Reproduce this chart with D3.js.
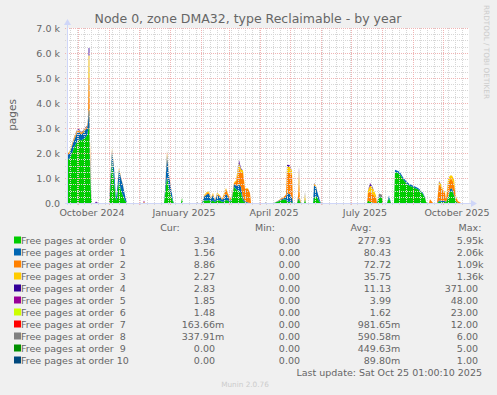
<!DOCTYPE html>
<html>
<head>
<meta charset="utf-8">
<script src="https://cdn.jsdelivr.net/npm/d3@7"></script>
<style>
  body { margin: 0; background: #f0f0f0; }
  svg { display: block; font-family: "DejaVu Sans", sans-serif; }
</style>
</head>
<body>
<div id="chart"></div>
<script>
// sample days, counted from 2024-09-20
const days = [
  0, 2, 4, 6, 8, 10, 12, 14, 16, 18,
  20, 21, 21.6, 22.4, 23, 24, 25, 28, 29, 31, 42,
  43, 45, 47, 49, 50, 52, 54, 56, 58, 60,
  76, 77, 78, 97, 98, 100, 102, 104, 106, 107,
  114, 115, 116, 129, 130, 131, 135, 137, 140, 142,
  144, 146, 148, 150, 153, 155, 157, 159, 161, 163,
  165, 167, 169, 171, 172, 174, 176, 178, 181, 183,
  184, 198, 199, 200, 207, 211, 215, 218, 219, 220,
  223, 225, 226, 230, 231, 232, 233, 234, 237, 238,
  239, 246, 247, 249, 251, 253, 254, 300, 301, 303,
  305, 307, 309, 310, 312, 315, 316, 320, 322, 324,
  327, 328, 331, 333, 336, 339, 342, 345, 348, 351,
  354, 356, 358, 359, 360, 362, 363, 364, 366, 370,
  372, 374, 376, 378, 379, 381, 383, 385, 387, 389,
  391, 393, 394, 402
];

const order0 = [
  1800, 1750, 1900, 2100, 2300, 2450, 2550, 2500, 2550, 2600,
  2700, 2900, 3000, 3000, 1500, 300, 0, 0, 0, 0, 0,
  400, 1700, 900, 100, 200, 900, 500, 300, 100, 0,
  0, 0, 0, 0, 300, 1050, 600, 300, 50, 0,
  0, 200, 0, 0, 0, 0, 0, 100, 100, 120,
  50, 100, 30, 120, 100, 50, 50, 120, 100, 30,
  200, 650, 550, 500, 500, 400, 100, 20, 0, 0,
  0, 0, 0, 0, 0, 60, 120, 150, 150, 50,
  50, 30, 0, 0, 100, 150, 50, 0, 0, 100,
  0, 0, 200, 300, 150, 30, 0, 0, 100, 50,
  30, 0, 0, 0, 250, 200, 0, 0, 200, 0,
  0, 1250, 1200, 1150, 950, 800, 700, 650, 600, 550,
  450, 350, 200, 50, 0, 0, 0, 0, 0, 0,
  50, 50, 30, 50, 20, 200, 450, 500, 300, 50,
  0, 0, 0, 0
];
const order1 = [
  150, 200, 250, 300, 300, 350, 300, 250, 250, 300,
  300, 300, 700, 700, 400, 100, 0, 0, 0, 0, 0,
  300, 400, 500, 100, 300, 450, 500, 400, 200, 0,
  0, 0, 0, 0, 200, 850, 500, 300, 50, 0,
  0, 0, 0, 0, 0, 0, 0, 150, 250, 250,
  120, 220, 60, 200, 150, 80, 150, 250, 150, 60,
  50, 100, 150, 200, 250, 250, 100, 50, 20, 0,
  0, 0, 0, 0, 0, 20, 40, 60, 100, 350,
  300, 200, 0, 0, 50, 50, 20, 0, 0, 50,
  0, 0, 500, 350, 200, 50, 0, 0, 0, 0,
  0, 0, 0, 0, 30, 30, 0, 0, 100, 0,
  0, 80, 80, 80, 80, 80, 70, 60, 60, 50,
  50, 50, 30, 0, 0, 0, 0, 0, 0, 0,
  50, 50, 50, 50, 20, 50, 100, 100, 50, 20,
  0, 0, 0, 0
];
const order2 = [
  50, 50, 50, 60, 80, 60, 50, 50, 50, 60,
  50, 100, 1300, 1300, 400, 50, 0, 0, 0, 0, 0,
  50, 50, 30, 0, 30, 50, 30, 20, 0, 0,
  0, 0, 0, 0, 50, 100, 50, 20, 0, 0,
  0, 0, 0, 0, 0, 0, 0, 30, 50, 50,
  30, 50, 20, 50, 40, 20, 150, 200, 100, 80,
  50, 50, 150, 500, 650, 550, 1000, 500, 550, 400,
  0, 0, 0, 0, 0, 10, 40, 80, 100, 800,
  850, 900, 0, 0, 100, 700, 100, 0, 0, 0,
  0, 0, 50, 30, 0, 0, 0, 0, 300, 400,
  350, 300, 200, 0, 0, 0, 0, 0, 0, 0,
  0, 0, 0, 0, 0, 0, 0, 0, 0, 0,
  0, 0, 0, 0, 0, 0, 150, 100, 0, 0,
  650, 550, 400, 300, 100, 500, 400, 350, 400, 150,
  60, 30, 0, 0
];
const order3 = [
  20, 20, 30, 30, 40, 30, 30, 20, 20, 30,
  20, 50, 900, 900, 200, 20, 0, 0, 0, 0, 0,
  50, 50, 20, 0, 0, 30, 0, 0, 0, 0,
  0, 40, 0, 0, 0, 50, 0, 0, 0, 0,
  0, 0, 0, 0, 0, 0, 0, 30, 50, 40,
  20, 40, 0, 40, 20, 0, 50, 30, 30, 20,
  20, 30, 50, 200, 200, 150, 100, 30, 20, 10,
  0, 0, 0, 0, 0, 0, 0, 0, 0, 250,
  250, 150, 0, 0, 50, 400, 30, 0, 0, 200,
  0, 0, 30, 20, 0, 0, 0, 0, 100, 250,
  250, 200, 100, 0, 0, 0, 0, 0, 0, 0,
  0, 0, 0, 0, 0, 0, 0, 0, 0, 0,
  0, 0, 0, 0, 0, 0, 0, 0, 0, 0,
  100, 100, 50, 50, 0, 200, 150, 150, 200, 50,
  20, 0, 0, 0
];
const order4 = [
  0, 0, 0, 20, 20, 30, 30, 20, 20, 20,
  20, 30, 300, 300, 50, 0, 0, 0, 40, 0, 0,
  0, 0, 0, 0, 0, 0, 0, 0, 0, 0,
  0, 0, 0, 0, 0, 0, 0, 0, 0, 0,
  0, 0, 0, 0, 0, 0, 0, 0, 0, 0,
  0, 0, 0, 0, 0, 0, 0, 0, 0, 0,
  0, 0, 0, 50, 100, 40, 0, 0, 0, 0,
  0, 0, 0, 0, 0, 0, 0, 0, 0, 80,
  50, 0, 0, 0, 0, 150, 0, 0, 0, 0,
  0, 0, 20, 0, 0, 0, 0, 0, 0, 80,
  50, 0, 0, 0, 0, 0, 0, 0, 0, 0,
  0, 0, 0, 0, 0, 0, 0, 0, 0, 0,
  0, 0, 0, 0, 0, 0, 0, 0, 0, 0,
  30, 0, 0, 0, 0, 0, 0, 0, 0, 0,
  0, 0, 0, 0
];
const order5 = [
  0, 0, 0, 0, 0, 0, 0, 0, 0, 0,
  0, 0, 0, 0, 0, 0, 0, 0, 20, 0, 0,
  0, 0, 0, 0, 0, 0, 0, 0, 0, 0,
  0, 60, 0, 0, 0, 0, 0, 0, 0, 0,
  0, 0, 0, 0, 0, 0, 0, 0, 0, 0,
  0, 0, 0, 0, 0, 0, 0, 0, 0, 0,
  0, 0, 0, 0, 20, 0, 0, 0, 0, 0,
  0, 0, 0, 0, 0, 0, 0, 0, 0, 20,
  0, 0, 0, 0, 0, 0, 0, 0, 0, 0,
  0, 0, 0, 0, 0, 0, 0, 0, 0, 20,
  0, 0, 0, 0, 0, 0, 0, 0, 0, 0,
  0, 0, 0, 0, 0, 0, 0, 0, 0, 0,
  0, 0, 0, 0, 0, 0, 0, 0, 0, 0,
  0, 0, 0, 0, 0, 0, 0, 0, 0, 0,
  0, 0, 0, 0
];
const order8 = [
  0, 0, 0, 0, 0, 0, 0, 0, 0, 0,
  0, 0, 0, 0, 0, 0, 0, 0, 0, 0, 0,
  0, 20, 0, 0, 0, 0, 0, 0, 0, 0,
  0, 0, 0, 0, 0, 50, 0, 0, 0, 0,
  0, 0, 0, 0, 40, 0, 0, 0, 0, 0,
  0, 0, 0, 0, 0, 0, 0, 0, 0, 0,
  0, 0, 0, 0, 0, 0, 0, 0, 0, 0,
  0, 0, 40, 0, 0, 0, 0, 0, 0, 0,
  0, 0, 0, 0, 0, 0, 0, 0, 0, 100,
  0, 0, 0, 0, 0, 0, 0, 0, 0, 0,
  0, 0, 0, 0, 100, 100, 0, 0, 0, 0,
  0, 0, 0, 0, 0, 0, 0, 0, 0, 0,
  0, 0, 0, 0, 0, 0, 0, 0, 0, 0,
  0, 0, 0, 0, 0, 0, 0, 0, 0, 0,
  0, 0, 0, 0
];
// orders 6, 7, 9 and 10 stay flat at zero on this scale
const zeros = [
  0, 0, 0, 0, 0, 0, 0, 0, 0, 0,
  0, 0, 0, 0, 0, 0, 0, 0, 0, 0, 0,
  0, 0, 0, 0, 0, 0, 0, 0, 0, 0,
  0, 0, 0, 0, 0, 0, 0, 0, 0, 0,
  0, 0, 0, 0, 0, 0, 0, 0, 0, 0,
  0, 0, 0, 0, 0, 0, 0, 0, 0, 0,
  0, 0, 0, 0, 0, 0, 0, 0, 0, 0,
  0, 0, 0, 0, 0, 0, 0, 0, 0, 0,
  0, 0, 0, 0, 0, 0, 0, 0, 0, 0,
  0, 0, 0, 0, 0, 0, 0, 0, 0, 0,
  0, 0, 0, 0, 0, 0, 0, 0, 0, 0,
  0, 0, 0, 0, 0, 0, 0, 0, 0, 0,
  0, 0, 0, 0, 0, 0, 0, 0, 0, 0,
  0, 0, 0, 0, 0, 0, 0, 0, 0, 0,
  0, 0, 0, 0
];
const order6 = zeros, order7 = zeros, order9 = zeros, order10 = zeros;

const labels = ["Free pages at order  0", "Free pages at order  1", "Free pages at order  2",
  "Free pages at order  3", "Free pages at order  4", "Free pages at order  5",
  "Free pages at order  6", "Free pages at order  7", "Free pages at order  8",
  "Free pages at order  9", "Free pages at order 10"];
const colors = ["#00cc00", "#0066b3", "#ff8000", "#ffcc00", "#330099", "#990099",
  "#ccff00", "#ff0000", "#808080", "#008f00", "#00487d"];
const curVals = ["3.34", "1.56", "8.86", "2.27", "2.83", "1.85", "1.48", "163.66m", "337.91m", "0.00", "0.00"];
const minVals = ["0.00", "0.00", "0.00", "0.00", "0.00", "0.00", "0.00", "0.00", "0.00", "0.00", "0.00"];
const avgVals = ["277.93", "80.43", "72.72", "35.75", "11.13", "3.99", "1.62", "981.65m", "590.58m", "449.63m", "89.80m"];
const maxVals = ["5.95k", "2.06k", "1.09k", "1.36k", "371.00", "48.00", "23.00", "12.00", "6.00", "5.00", "1.00"];
const yTicks = [0, 1000, 2000, 3000, 4000, 5000, 6000, 7000];
const xLabelMonths = ["2024-10", "2025-01", "2025-04", "2025-07", "2025-10"];

const series = [order0, order1, order2, order3, order4, order5, order6, order7, order8, order9, order10];
const keys = series.map((_, i) => "o" + i);

const width = 497, height = 395;
const plot = {left: 67, right: 469, top: 28, bottom: 203};
const start = new Date(Date.UTC(2024, 8, 20));

const svg = d3.select("#chart").append("svg")
  .attr("width", width)
  .attr("height", height);

svg.append("rect").attr("width", width).attr("height", height).attr("fill", "#f0f0f0");

const x = d3.scaleUtc()
  .domain([start, d3.utcDay.offset(start, 402)])
  .range([plot.left, plot.right]);
const y = d3.scaleLinear().domain([0, 7000]).range([plot.bottom, plot.top]);

// table for the stack
const rows = days.map((d, i) => {
  const r = {date: new Date(start.getTime() + d * 864e5)};
  series.forEach((s, k) => r[keys[k]] = s[i]);
  return r;
});
const stacked = d3.stack().keys(keys)(rows);

// canvas
svg.append("rect")
  .attr("x", plot.left).attr("y", plot.top)
  .attr("width", plot.right - plot.left).attr("height", plot.bottom - plot.top)
  .attr("fill", "#ffffff");

const area = d3.area()
  .x(d => x(d.data.date))
  .y0(d => y(d[0]))
  .y1(d => y(d[1]));

svg.append("g").selectAll("path")
  .data(stacked)
  .join("path")
  .attr("fill", (d, i) => colors[i])
  .attr("d", area);

// grid, drawn over the areas like rrdtool does
const grid = svg.append("g").attr("shape-rendering", "crispEdges");
const minorCol = "#d6d6d6", majorCol = "#f0b4b4";
const minorY = d3.range(0, 7001, 250).filter(v => v % 1000 !== 0);
grid.selectAll("line.hmin").data(minorY).join("line").attr("class", "hmin")
  .attr("x1", plot.left - 2).attr("x2", plot.right)
  .attr("y1", d => Math.round(y(d)) + 0.5).attr("y2", d => Math.round(y(d)) + 0.5)
  .attr("stroke", minorCol).attr("stroke-dasharray", "1,1");
const weeks = d3.utcMonday.range(x.domain()[0], x.domain()[1]);
grid.selectAll("line.vmin").data(weeks).join("line").attr("class", "vmin")
  .attr("x1", d => Math.round(x(d)) + 0.5).attr("x2", d => Math.round(x(d)) + 0.5)
  .attr("y1", plot.top).attr("y2", plot.bottom + 2)
  .attr("stroke", minorCol).attr("stroke-dasharray", "1,1");
grid.selectAll("line.hmaj").data(yTicks).join("line").attr("class", "hmaj")
  .attr("x1", plot.left - 2).attr("x2", plot.right)
  .attr("y1", d => Math.round(y(d)) + 0.5).attr("y2", d => Math.round(y(d)) + 0.5)
  .attr("stroke", majorCol).attr("stroke-dasharray", "1,1");
const months = d3.utcMonth.range(x.domain()[0], x.domain()[1]);
grid.selectAll("line.vmaj").data(months).join("line").attr("class", "vmaj")
  .attr("x1", d => Math.round(x(d)) + 0.5).attr("x2", d => Math.round(x(d)) + 0.5)
  .attr("y1", plot.top).attr("y2", plot.bottom + 3)
  .attr("stroke", majorCol).attr("stroke-dasharray", "1,1");

// axis lines with arrows
const axisCol = "#cfd6f8";
svg.append("line").attr("x1", plot.left + 0.5).attr("x2", plot.left + 0.5)
  .attr("y1", plot.bottom + 2).attr("y2", 24).attr("stroke", axisCol);
svg.append("path").attr("d", `M${plot.left - 3},25L${plot.left + 0.5},19L${plot.left + 4},25Z`).attr("fill", axisCol);
svg.append("line").attr("x1", plot.left - 2).attr("x2", plot.right + 3)
  .attr("y1", plot.bottom + 0.5).attr("y2", plot.bottom + 0.5).attr("stroke", axisCol);
svg.append("path").attr("d", `M${plot.right + 2},${plot.bottom - 3}L${plot.right + 8},${plot.bottom + 0.5}L${plot.right + 2},${plot.bottom + 4}Z`).attr("fill", axisCol);

const fontCol = "#666666";

// y labels
const yAxis = d3.axisLeft(y).tickValues(yTicks).tickSize(0).tickPadding(0)
  .tickFormat(d => d === 0 ? "0.0" : (d / 1000).toFixed(1) + " k");
svg.append("g")
  .attr("transform", `translate(${plot.left - 7},0)`)
  .call(yAxis)
  .call(g => g.select(".domain").remove())
  .call(g => g.selectAll("text").attr("fill", fontCol).attr("font-size", 9.5)
    .attr("font-family", "DejaVu Sans"));

// x labels, centred mid-month
svg.append("g").selectAll("text")
  .data(xLabelMonths)
  .join("text")
  .attr("x", m => x(d3.utcDay.offset(d3.utcParse("%Y-%m")(m), 14)))
  .attr("y", 216)
  .attr("text-anchor", "middle")
  .attr("font-size", 9.5)
  .attr("fill", fontCol)
  .text(m => d3.utcFormat("%B %Y")(d3.utcParse("%Y-%m")(m)));

// title and side texts
svg.append("text").attr("x", 248).attr("y", 23).attr("text-anchor", "middle")
  .attr("font-size", 12.5).attr("fill", fontCol)
  .text("Node 0, zone DMA32, type Reclaimable - by year");
svg.append("text").attr("transform", "translate(16,115) rotate(-90)")
  .attr("text-anchor", "middle").attr("font-size", 10.5).attr("fill", fontCol)
  .text("pages");
svg.append("text").attr("transform", "translate(484,5) rotate(90)")
  .attr("font-size", 7.3).attr("fill", "#cccccc")
  .text("RRDTOOL / TOBI OETIKER");

// legend
const leg = svg.append("g").attr("font-size", 9.5).attr("fill", fontCol);
const heads = [["Cur:", 170], ["Min:", 265], ["Avg:", 361], ["Max:", 470]];
leg.selectAll(".head").data(heads).join("text")
  .attr("x", d => d[1]).attr("y", 231).attr("text-anchor", "middle").text(d => d[0]);

const rowY = i => 243.5 + 12 * i;
leg.selectAll(".sw").data(colors).join("rect")
  .attr("x", 14).attr("y", (d, i) => rowY(i) - 7)
  .attr("width", 7).attr("height", 7).attr("fill", d => d);
leg.selectAll(".lab").data(labels).join("text")
  .attr("x", 21).attr("y", (d, i) => rowY(i))
  .attr("xml:space", "preserve")
  .style("white-space", "pre")
  .text(d => d);

function valueColumn(vals, xRight) {
  vals.forEach((v, i) => {
    const suffix = /[a-z]$/i.test(v) ? v.slice(-1) : "";
    const num = suffix ? v.slice(0, -1) : v;
    leg.append("text").attr("x", xRight).attr("y", rowY(i)).attr("text-anchor", "end").text(num);
    if (suffix) leg.append("text").attr("x", xRight).attr("y", rowY(i)).text(suffix);
  });
}
valueColumn(curVals, 215);
valueColumn(minVals, 300);
valueColumn(avgVals, 391);
valueColumn(maxVals, 478);

leg.append("text").attr("x", 482).attr("y", rowY(11)).attr("text-anchor", "end")
  .text("Last update: Sat Oct 25 01:00:10 2025");
svg.append("text").attr("x", 245).attr("y", 387).attr("text-anchor", "middle")
  .attr("font-size", 7.3).attr("fill", "#cccccc").text("Munin 2.0.76");
</script>
</body>
</html>
